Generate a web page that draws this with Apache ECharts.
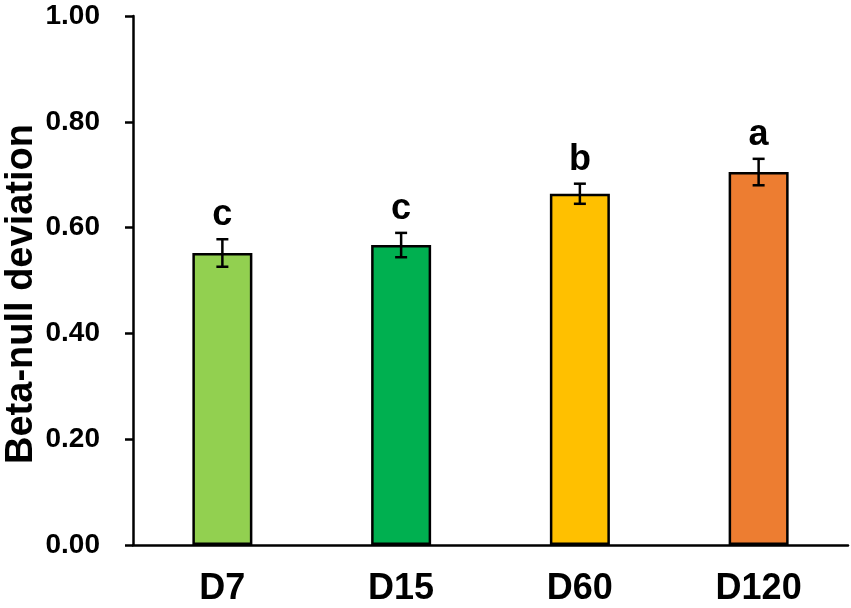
<!DOCTYPE html>
<html>
<head>
<meta charset="utf-8">
<script src="https://cdn.jsdelivr.net/npm/echarts@6/dist/echarts.min.js"></script>
<style>
  html, body { margin: 0; padding: 0; background: #fff; }
  #chart { width: 851px; height: 608px; }
</style>
</head>
<body>
<div id="chart"></div>
<script>
// data
const categories = ['D7', 'D15', 'D60', 'D120'];
const means = [0.552, 0.567, 0.664, 0.705];
const errors = [0.026, 0.023, 0.019, 0.025];
const letters = ['c', 'c', 'b', 'a'];
const barColors = ['#92D050', '#00B050', '#FFC000', '#ED7D31'];
const yTitle = 'Beta-null deviation';

const font = 'Arial, "Liberation Sans", sans-serif';

const chart = echarts.init(document.getElementById('chart'), null, { renderer: 'canvas' });

const errData = categories.map((c, i) => [i, means[i] - errors[i], means[i] + errors[i], letters[i]]);

const option = {
  backgroundColor: '#fff',
  animation: false,
  grid: { left: 133, right: 3, top: 16, bottom: 63, outerBoundsMode: 'none' },
  graphic: [{
    type: 'text',
    x: 22,
    y: 294,
    rotation: Math.PI / 2,
    style: {
      text: yTitle,
      align: 'center',
      verticalAlign: 'middle',
      fill: '#000',
      font: 'bold 38px ' + font
    }
  }],
  xAxis: {
    type: 'category',
    data: categories,
    axisLine: { lineStyle: { color: '#000', width: 2.5 } },
    axisTick: { show: false },
    axisLabel: { color: '#000', fontFamily: font, fontWeight: 'bold', fontSize: 36, margin: 26 }
  },
  yAxis: {
    type: 'value',
    min: 0,
    max: 1,
    interval: 0.2,
    axisLine: { show: true, lineStyle: { color: '#000', width: 2.5 } },
    axisTick: { show: true, inside: false, length: 8, lineStyle: { color: '#000', width: 2.5 } },
    splitLine: { show: false },
    axisLabel: {
      color: '#000', fontFamily: font, fontWeight: 'bold', fontSize: 28, margin: 33,
      formatter: v => v.toFixed(2)
    }
  },
  series: [
    {
      type: 'bar',
      barWidth: 60,
      data: means.map((v, i) => ({
        value: v,
        itemStyle: { color: barColors[i], borderColor: '#000', borderWidth: 2.5 }
      }))
    },
    {
      type: 'custom',
      data: errData,
      encode: { x: 0, y: [1, 2] },
      z: 10,
      renderItem: function (params, api) {
        const x = api.coord([api.value(0), 0])[0];
        const lo = api.coord([api.value(0), api.value(1)])[1];
        const hi = api.coord([api.value(0), api.value(2)])[1];
        const half = 6;
        const style = { stroke: '#000', lineWidth: 2.5 };
        return {
          type: 'group',
          children: [
            { type: 'line', shape: { x1: x, y1: lo, x2: x, y2: hi }, style: style },
            { type: 'line', shape: { x1: x - half, y1: lo, x2: x + half, y2: lo }, style: style },
            { type: 'line', shape: { x1: x - half, y1: hi, x2: x + half, y2: hi }, style: style },
            {
              type: 'text',
              style: {
                text: api.value(3),
                x: x,
                y: hi - 6,
                align: 'center',
                verticalAlign: 'bottom',
                fill: '#000',
                font: 'bold 36px ' + font
              }
            }
          ]
        };
      }
    }
  ]
};

chart.setOption(option);
window.onresize = function () { chart.resize(); };
</script>
</body>
</html>
